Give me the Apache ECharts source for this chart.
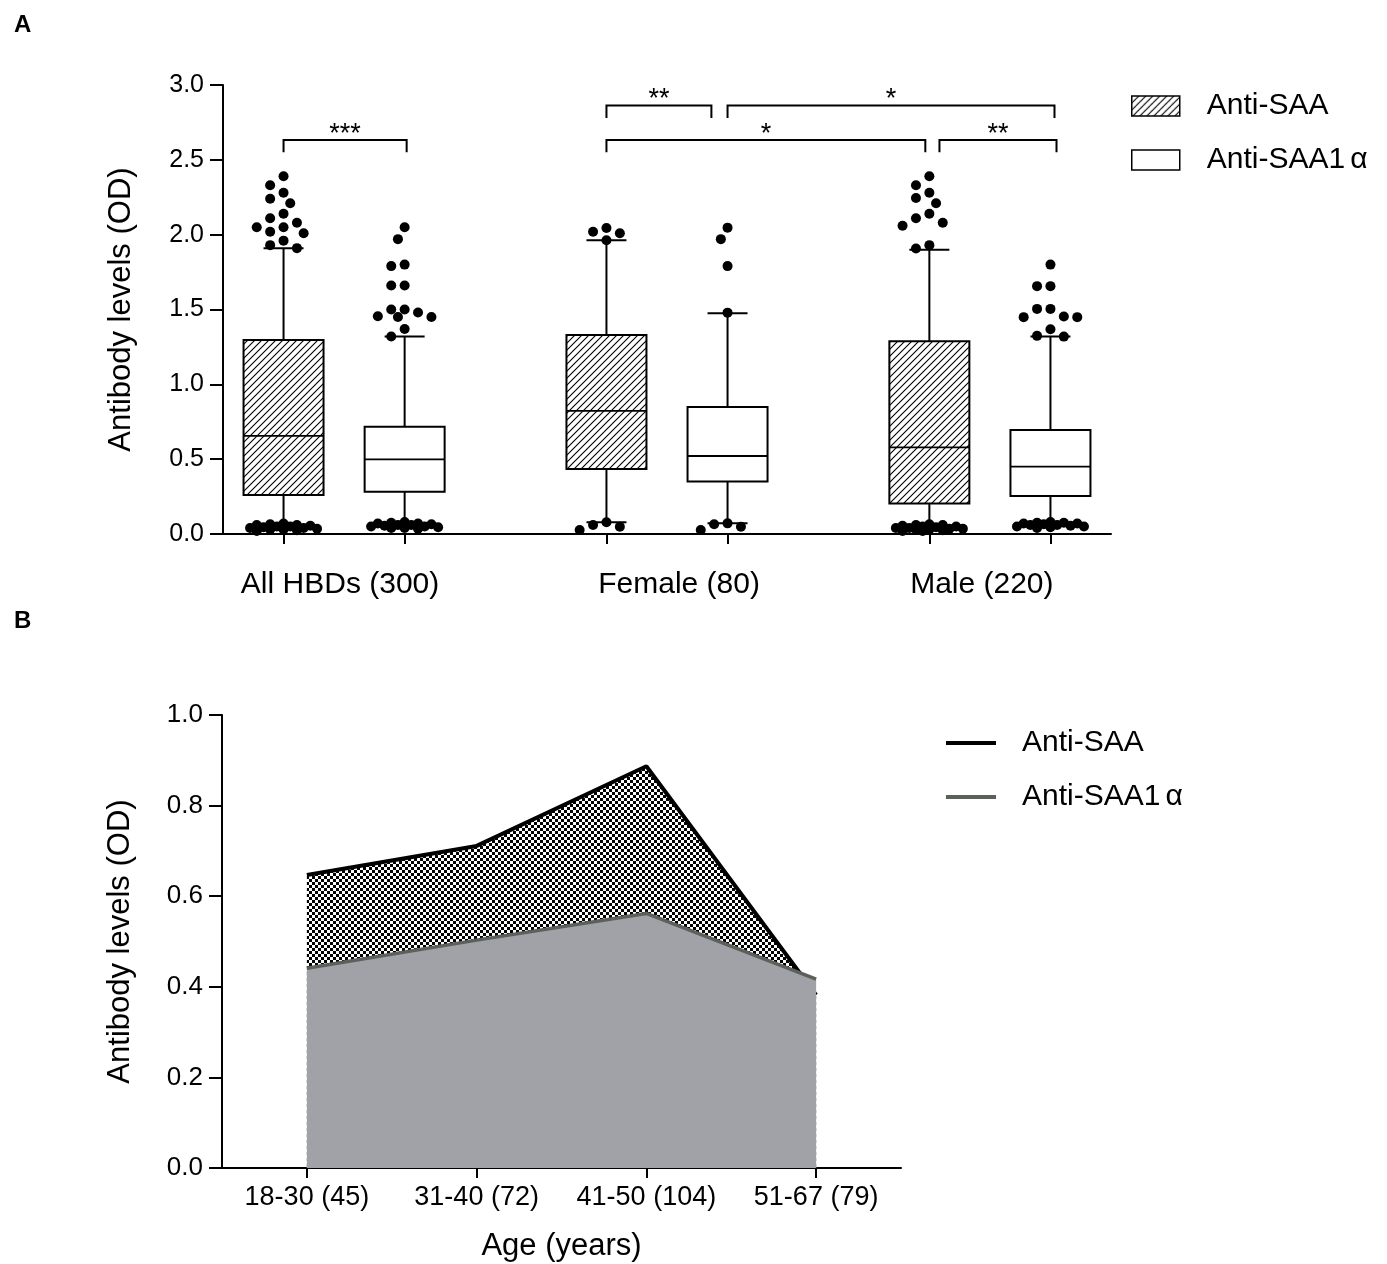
<!DOCTYPE html>
<html><head><meta charset="utf-8">
<script src="https://cdn.jsdelivr.net/npm/echarts@6/dist/echarts.min.js"></script>
<style>html,body{margin:0;padding:0;background:#fff}#c{width:1387px;height:1264px}</style>
</head><body><div id="c"></div>
<script>
// ---------------- DATA ----------------
// Panel A: box statistics [min, Q1, median, Q3, max]
const groupLabels = ['All HBDs (300)', 'Female (80)', 'Male (220)'];
const saaBoxes   = [[0.05, 0.26, 0.655, 1.297, 1.91], [0.078, 0.434, 0.822, 1.33, 1.963], [0.05, 0.203, 0.579, 1.288, 1.90]];
const saa1aBoxes = [[0.07, 0.283, 0.499, 0.717, 1.319], [0.071, 0.35, 0.521, 0.849, 1.475], [0.07, 0.254, 0.45, 0.695, 1.319]];
// outliers per group
const saaOutHigh = [
  [2.39, 2.33, 2.28, 2.24, 2.21, 2.14, 2.11, 2.08, 2.05, 2.05, 2.02, 2.01, 1.96, 1.93, 1.91],
  [2.045, 2.02, 2.01, 1.963],
  [2.39, 2.33, 2.28, 2.245, 2.21, 2.14, 2.11, 2.08, 2.06, 1.93, 1.907]
];
const saaOutLow = [
  [0.07, 0.065, 0.06, 0.06, 0.055, 0.05, 0.05, 0.045, 0.04, 0.04, 0.035, 0.03, 0.03, 0.025, 0.02],
  [0.078, 0.06, 0.049, 0.027],
  [0.065, 0.06, 0.06, 0.055, 0.05, 0.05, 0.045, 0.04, 0.04, 0.035, 0.035, 0.03, 0.03, 0.025, 0.02, 0.02]
];
const saa1aOutHigh = [
  [2.05, 1.97, 1.80, 1.79, 1.66, 1.66, 1.50, 1.50, 1.48, 1.455, 1.45, 1.45, 1.37, 1.32],
  [2.047, 1.97, 1.79, 1.479],
  [1.80, 1.656, 1.656, 1.504, 1.504, 1.453, 1.449, 1.449, 1.368, 1.324, 1.319]
];
const saa1aOutLow = [
  [0.08, 0.075, 0.07, 0.07, 0.065, 0.06, 0.06, 0.055, 0.05, 0.05, 0.045, 0.04, 0.04, 0.035],
  [0.071, 0.065, 0.049, 0.027],
  [0.08, 0.075, 0.075, 0.07, 0.07, 0.065, 0.06, 0.06, 0.055, 0.05, 0.05, 0.045, 0.04]
];
const sigLabels = ['***', '**', '*', '*', '**'];
const yTicksA = [0, 0.5, 1.0, 1.5, 2.0, 2.5, 3.0];

// Panel B
const ageGroups = ['18-30 (45)', '31-40 (72)', '41-50 (104)', '51-67 (79)'];
const saaMean   = [0.647, 0.711, 0.887, 0.382];
const saa1aMean = [0.441, 0.503, 0.562, 0.417];
const yTicksB = [0, 0.2, 0.4, 0.6, 0.8, 1.0];

// ---------------- LAYOUT / STYLE ----------------
const FONT = '"Liberation Sans", Arial, sans-serif';
const GA = {left: 223, top: 85, width: 888, height: 449};
const GB = {left: 222, top: 715, width: 679, height: 453};
const XA_MAX = 22;
const saaX = [1.5, 9.5, 17.5], saa1aX = [4.5, 12.5, 20.5];
const labelPosA = [2.9, 11.3, 18.8];
// brackets [x1, x2, yTop, yDrop]
const brackets = [[1.5, 4.55, 2.632, 2.55], [9.5, 12.1, 2.863, 2.779], [12.5, 20.6, 2.863, 2.779], [9.5, 17.4, 2.632, 2.55], [17.75, 20.65, 2.632, 2.55]];
const BOX_W = 80;
const X_UNIT = GA.width / XA_MAX, Y_UNIT = GA.height / 3;
const HALF_STEP = 6.7, MIN_D = 12, MAX_STEPS = 5;

function hatchCanvas() {
  const c = document.createElement('canvas'); c.width = c.height = 7;
  const g = c.getContext('2d');
  g.fillStyle = '#fff'; g.fillRect(0, 0, 7, 7);
  g.strokeStyle = '#000'; g.lineWidth = 1.1; g.beginPath();
  g.moveTo(-1, 8); g.lineTo(8, -1);
  g.moveTo(-2, 2); g.lineTo(2, -2);
  g.moveTo(5, 9); g.lineTo(9, 5);
  g.stroke(); return c;
}
function checkerCanvas() {
  const c = document.createElement('canvas'); c.width = c.height = 6;
  const g = c.getContext('2d');
  g.fillStyle = '#fff'; g.fillRect(0, 0, 6, 6);
  g.fillStyle = '#000'; g.fillRect(0, 0, 3, 3); g.fillRect(3, 3, 3, 3);
  return c;
}
const hatch = {image: hatchCanvas(), repeat: 'repeat'};
const checker = {image: checkerCanvas(), repeat: 'repeat'};

function swarm(center, vals) {
  const placed = [], out = [];
  const sorted = vals.slice().sort((a, b) => b - a);
  for (const v of sorted) {
    const y = v * Y_UNIT;
    const cands = [0];
    for (let k = 1; k <= MAX_STEPS; k++) cands.push(-k * HALF_STEP, k * HALF_STEP);
    let best = 0, bestD = -1;
    for (const dx of cands) {
      let md = Infinity;
      for (const p of placed) { const d = Math.hypot(p[0] - dx, p[1] - y); if (d < md) md = d; }
      if (md >= MIN_D) { best = dx; break; }
      if (md > bestD) { bestD = md; best = dx; }
    }
    placed.push([best, y]);
    out.push([center + best / X_UNIT, v]);
  }
  return out;
}
let points = [];
for (let i = 0; i < 3; i++) {
  points = points.concat(swarm(saaX[i], saaOutHigh[i]), swarm(saaX[i], saaOutLow[i]),
    swarm(saa1aX[i], saa1aOutHigh[i]), swarm(saa1aX[i], saa1aOutLow[i]));
}

function boxRender(fill) {
  return function (params, api) {
    const x = api.value(0);
    const P = v => api.coord([x, v]);
    const cx = P(0)[0];
    const yMin = P(api.value(1))[1], yQ1 = P(api.value(2))[1], yMed = P(api.value(3))[1],
          yQ3 = P(api.value(4))[1], yMax = P(api.value(5))[1];
    const hw = BOX_W / 2, cw = BOX_W / 4;
    const ls = {stroke: '#000', lineWidth: 2};
    return {type: 'group', children: [
      {type: 'line', shape: {x1: cx, y1: yMax, x2: cx, y2: yQ3}, style: ls},
      {type: 'line', shape: {x1: cx, y1: yQ1, x2: cx, y2: yMin}, style: ls},
      {type: 'line', shape: {x1: cx - cw, y1: yMax, x2: cx + cw, y2: yMax}, style: ls},
      {type: 'line', shape: {x1: cx - cw, y1: yMin, x2: cx + cw, y2: yMin}, style: ls},
      {type: 'rect', shape: {x: cx - hw, y: yQ3, width: BOX_W, height: yQ1 - yQ3}, style: {fill: fill, stroke: '#000', lineWidth: 2}},
      {type: 'line', shape: {x1: cx - hw, y1: yMed, x2: cx + hw, y2: yMed}, style: {stroke: '#000', lineWidth: 1.8}}
    ]};
  };
}
function bracketRender(params, api) {
  const x1 = api.value(0), x2 = api.value(1), yt = api.value(2), yd = api.value(3);
  const a = api.coord([x1, yt]), b = api.coord([x2, yt]), a2 = api.coord([x1, yd]), b2 = api.coord([x2, yd]);
  return {type: 'group', children: [
    {type: 'polyline', shape: {points: [a2, a, b, b2]}, style: {stroke: '#000', fill: null, lineWidth: 2}},
    {type: 'text', style: {text: sigLabels[params.dataIndex], x: (a[0] + b[0]) / 2, y: a[1] + 8, align: 'center', verticalAlign: 'bottom', fontSize: 27, fill: '#000', fontFamily: FONT}}
  ]};
}

const axisLine = {lineStyle: {color: '#000', width: 2}};
const chart = echarts.init(document.getElementById('c'), null, {renderer: 'canvas'});
chart.setOption({
  animation: false,
  backgroundColor: '#fff',
  title: [
    {text: 'A', left: 9, top: 8, textStyle: {fontSize: 24, fontWeight: 'bold', color: '#000', fontFamily: FONT}},
    {text: 'B', left: 9, top: 604, textStyle: {fontSize: 24, fontWeight: 'bold', color: '#000', fontFamily: FONT}}
  ],
  legend: [
    {
      data: [
        {name: 'Anti-SAA', itemStyle: {color: hatch, borderColor: '#000', borderWidth: 1.5}},
        {name: 'Anti-SAA1α', itemStyle: {color: '#fff', borderColor: '#000', borderWidth: 1.5}}
      ],
      orient: 'vertical', left: 1131, top: 91, padding: 0, itemGap: 24, itemWidth: 48, itemHeight: 20, icon: 'rect',
      selectedMode: false,
      formatter: n => n === 'Anti-SAA1α' ? '{t|Anti-SAA1}{g|α}' : '{t|' + n + '}',
      textStyle: {fontSize: 30, color: '#000', fontFamily: FONT,
        rich: {t: {fontSize: 30, color: '#000', fontFamily: FONT, padding: [0, 0, 0, 22]}, g: {fontSize: 30, color: '#000', fontFamily: FONT, padding: [0, 0, 0, 5]}}}
    },
    {
      data: [
        {name: 'B:Anti-SAA', itemStyle: {color: '#000'}},
        {name: 'B:Anti-SAA1α', itemStyle: {color: '#5c605a'}}
      ],
      orient: 'vertical', left: 946, top: 728, padding: 0, itemGap: 24, itemWidth: 50, itemHeight: 4, icon: 'rect',
      selectedMode: false,
      formatter: n => n === 'B:Anti-SAA1α' ? '{t|Anti-SAA1}{g|α}' : '{t|' + n.slice(2) + '}',
      textStyle: {fontSize: 30, color: '#000', fontFamily: FONT,
        rich: {t: {fontSize: 30, color: '#000', fontFamily: FONT, padding: [0, 0, 0, 21]}, g: {fontSize: 30, color: '#000', fontFamily: FONT, padding: [0, 0, 0, 5]}}}
    }
  ],
  grid: [
    {left: GA.left, top: GA.top, width: GA.width, height: GA.height, containLabel: false},
    {left: GB.left, top: GB.top, width: GB.width, height: GB.height, containLabel: false}
  ],
  xAxis: [
    {
      gridIndex: 0, type: 'value', min: 0, max: XA_MAX, splitLine: {show: false},
      axisLine: axisLine,
      axisTick: {show: true, length: 10, lineStyle: {color: '#000', width: 2}, customValues: saaX.concat(saa1aX).sort((a, b) => a - b)},
      axisLabel: {customValues: labelPosA, formatter: v => groupLabels[labelPosA.indexOf(v)] || '', fontSize: 30, color: '#000', fontFamily: FONT, margin: 36}
    },
    {
      gridIndex: 1, type: 'category', data: ageGroups, boundaryGap: true,
      axisLine: axisLine,
      axisTick: {show: true, alignWithLabel: true, interval: 0, length: 10, lineStyle: {color: '#000', width: 2}},
      axisLabel: {interval: 0, hideOverlap: false, fontSize: 27, color: '#000', fontFamily: FONT, margin: 16},
      name: 'Age (years)', nameLocation: 'middle', nameGap: 63,
      nameTextStyle: {fontSize: 31, color: '#000', fontFamily: FONT}
    }
  ],
  yAxis: [
    {
      gridIndex: 0, type: 'value', min: yTicksA[0], max: yTicksA[yTicksA.length - 1], interval: 0.5,
      splitLine: {show: false}, axisLine: {show: true, lineStyle: {color: '#000', width: 2}},
      axisTick: {show: true, length: 13, lineStyle: {color: '#000', width: 2}},
      axisLabel: {formatter: v => v.toFixed(1), fontSize: 25, color: '#000', fontFamily: FONT, margin: 19},
      name: 'Antibody levels (OD)', nameLocation: 'middle', nameGap: 86,
      nameTextStyle: {fontSize: 31, color: '#000', fontFamily: FONT}
    },
    {
      gridIndex: 1, type: 'value', min: yTicksB[0], max: yTicksB[yTicksB.length - 1], interval: 0.2,
      splitLine: {show: false}, axisLine: {show: true, lineStyle: {color: '#000', width: 2}},
      axisTick: {show: true, length: 13, lineStyle: {color: '#000', width: 2}},
      axisLabel: {formatter: v => v.toFixed(1), fontSize: 26, color: '#000', fontFamily: FONT, margin: 19},
      name: 'Antibody levels (OD)', nameLocation: 'middle', nameGap: 86,
      nameTextStyle: {fontSize: 31, color: '#000', fontFamily: FONT}
    }
  ],
  series: [
    {
      name: 'Anti-SAA', type: 'custom', xAxisIndex: 0, yAxisIndex: 0,
      itemStyle: {color: hatch, borderColor: '#000'},
      encode: {x: 0, y: [1, 2, 3, 4, 5]},
      renderItem: boxRender(hatch),
      data: saaBoxes.map((b, i) => [saaX[i]].concat(b)), z: 2
    },
    {
      name: 'Anti-SAA1α', type: 'custom', xAxisIndex: 0, yAxisIndex: 0,
      itemStyle: {color: '#fff', borderColor: '#000'},
      encode: {x: 0, y: [1, 2, 3, 4, 5]},
      renderItem: boxRender('#fff'),
      data: saa1aBoxes.map((b, i) => [saa1aX[i]].concat(b)), z: 2
    },
    {
      name: 'outliers', type: 'scatter', xAxisIndex: 0, yAxisIndex: 0,
      symbol: 'circle', symbolSize: 10, itemStyle: {color: '#000', opacity: 1},
      data: points, z: 3
    },
    {
      name: 'significance', type: 'custom', xAxisIndex: 0, yAxisIndex: 0,
      encode: {x: [0, 1], y: [2, 3]},
      renderItem: bracketRender, data: brackets, z: 4
    },
    {
      name: 'B:Anti-SAA', type: 'line', xAxisIndex: 1, yAxisIndex: 1,
      data: saaMean, symbol: 'none', showSymbol: false,
      lineStyle: {color: '#000', width: 4}, itemStyle: {color: '#000'},
      areaStyle: {color: checker, opacity: 1}, z: 2
    },
    {
      name: 'B:Anti-SAA1α', type: 'line', xAxisIndex: 1, yAxisIndex: 1,
      data: saa1aMean, symbol: 'none', showSymbol: false,
      lineStyle: {color: '#5c605a', width: 3.5}, itemStyle: {color: '#5c605a'},
      areaStyle: {color: '#a1a2a7', opacity: 1}, z: 3
    }
  ]
});
</script></body></html>
